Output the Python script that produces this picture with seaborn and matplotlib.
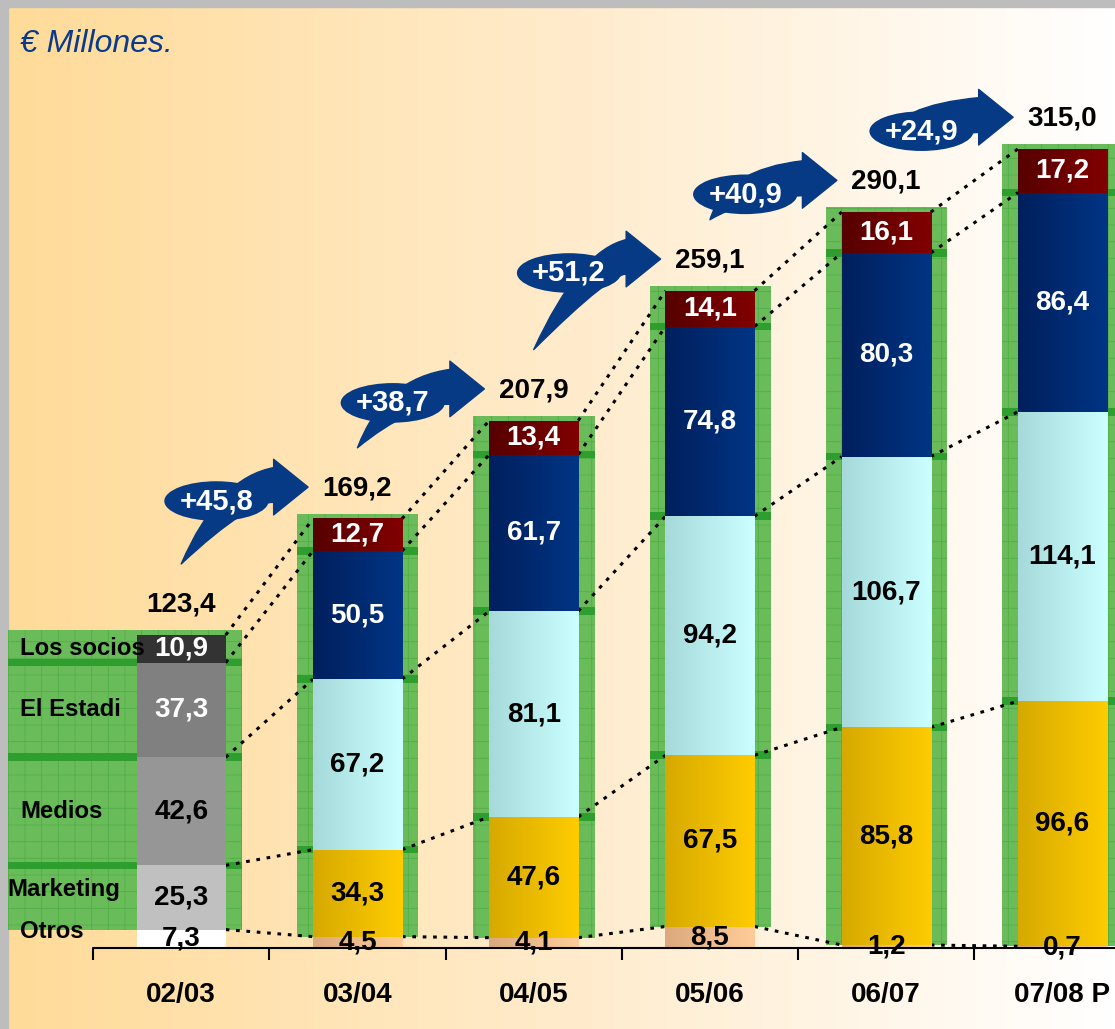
import numpy as np
import pandas as pd
import matplotlib
matplotlib.use("Agg")
import matplotlib.pyplot as plt
import seaborn as sns
from matplotlib.colors import LinearSegmentedColormap
from matplotlib.patches import FancyArrowPatch, ArrowStyle, Rectangle

# Data (€ millones)
seasons = ["02/03", "03/04", "04/05", "05/06", "06/07", "07/08 P"]
otros = [7.3, 4.5, 4.1, 8.5, 1.2, 0.7]
marketing = [25.3, 34.3, 47.6, 67.5, 85.8, 96.6]
medios = [42.6, 67.2, 81.1, 94.2, 106.7, 114.1]
estadio = [37.3, 50.5, 61.7, 74.8, 80.3, 86.4]
socios = [10.9, 12.7, 13.4, 14.1, 16.1, 17.2]
increments = [45.8, 38.7, 51.2, 40.9, 24.9]
segment_names = ["Otros", "Marketing", "Medios", "El Estadi", "Los socios"]

# Styles
seg_colors = [("#DCA97E", "#FFCC99"), ("#D6A900", "#FFCC00"), ("#A6DADA", "#CCFFFF"),
              ("#001F5C", "#003585"), ("#560000", "#820000")]
grey_colors = ["#FFFFFF", "#C0C0C0", "#969696", "#808080", "#333333"]
text_colors = ["black", "black", "black", "white", "white"]
navy = "#063A84"


def fmt(v):
    return f"{v:.1f}".replace(".", ",")


sns.set_style("white")
plt.rcParams["font.family"] = ["Liberation Sans", "DejaVu Sans"]
plt.rcParams["hatch.linewidth"] = 0.6

fig = plt.figure(figsize=(11.15, 10.29), dpi=100)

# background gradient + grey frame
bg = fig.add_axes([0, 0, 1, 1])
bg.set_axis_off()
grad = np.linspace(0, 1, 256).reshape(1, -1)
bg_cmap = LinearSegmentedColormap.from_list("bg", ["#FFDB98", "#FFEBCB", "#FFFFFF"])
bg.imshow(grad, cmap=bg_cmap, aspect="auto", extent=(0, 1, 0, 1))
bg.add_patch(Rectangle((0, 0), 0.0072, 1, color="#BDBDBD"))
bg.add_patch(Rectangle((0, 0.993), 1, 0.007, color="#BDBDBD"))
bg.set_xlim(0, 1)
bg.set_ylim(0, 1)

ax = fig.add_axes([0, 0, 1, 1])
ax.patch.set_alpha(0)

layers = np.array([otros, marketing, medios, estadio, socios])
tops = np.cumsum(layers, axis=0)
bottoms = np.vstack([np.zeros(len(seasons)), tops[:-1]])
totals = tops[-1]
x = np.arange(len(seasons))
half = 0.2525

# green backdrops
green_left = np.where(x == 0, -0.98, x - 0.343)
green_w = x + 0.345 - green_left
ax.bar(green_left, totals + 2 - layers[0], width=green_w, bottom=layers[0], align="edge",
       color="#6ABC5A", edgecolor="#52AE47", linewidth=0, hatch="+", zorder=1)
for k in range(1, 4):
    ax.bar(green_left, 3, width=green_w, bottom=tops[k] - 1.5, align="edge",
           color="#2E9E2E", linewidth=0, zorder=1.5)

# dotted connectors
for k in range(5):
    for i in range(len(seasons) - 1):
        ax.plot([x[i] + half, x[i + 1] - half], [tops[k][i], tops[k][i + 1]],
                color="black", lw=2.2, linestyle=(0, (1.2, 2.2)), zorder=2)

# stacked bars
for k, name in enumerate(segment_names):
    df = pd.DataFrame({"season": seasons, "value": layers[k]})
    n0 = len(ax.patches)
    sns.barplot(data=df, x="season", y="value", bottom=bottoms[k], width=0.505,
                color=seg_colors[k][1], saturation=1, errorbar=None, linewidth=0,
                zorder=3, ax=ax)
    new = ax.patches[n0:]
    for i, p in enumerate(new):
        if i == 0:
            p.set_facecolor(grey_colors[k])
        else:
            cmap = LinearSegmentedColormap.from_list(f"s{k}", seg_colors[k])
            x0, y0, w, h = p.get_x(), p.get_y(), p.get_width(), p.get_height()
            ax.imshow(grad, cmap=cmap, aspect="auto", extent=(x0, x0 + w, y0, y0 + h),
                      zorder=3.1)
        ax.text(x[i], bottoms[k][i] + layers[k][i] / 2, fmt(layers[k][i]), ha="center",
                va="center", fontsize=20, fontweight="bold", color=text_colors[k], zorder=5)
    # series labels next to the first bar
    lx = -0.985 if name == "Marketing" else -0.915
    ly = bottoms[k][0] + layers[k][0] / 2 + (3 if k < 2 else 0)
    ax.text(lx, ly, name, ha="left", va="center", fontsize=17.2, fontweight="bold",
            color="black", zorder=4)

# totals
for i, t in enumerate(totals):
    ax.text(x[i], t + 12, fmt(t), ha="center", va="center", fontsize=20,
            fontweight="bold", color="black", zorder=5)

# growth arrows: tapered curved body (wedge) + arrow head
for i, inc in enumerate(increments):
    tail = (x[i], totals[i] + 28)
    head_y = totals[i + 1] + 12.5
    body = FancyArrowPatch((x[i] + 0.54, head_y + 1), tail,
                           arrowstyle=ArrowStyle.Wedge(tail_width=0.62, shrink_factor=0.75),
                           connectionstyle="angle3,angleA=5,angleB=55", mutation_scale=40,
                           color=navy, zorder=6, shrinkA=0, shrinkB=0)
    ax.add_patch(body)
    head = FancyArrowPatch((x[i] + 0.49, head_y), (x[i] + 0.72, head_y),
                           arrowstyle=ArrowStyle.Simple(head_length=0.62, head_width=1.0,
                                                        tail_width=0.55),
                           mutation_scale=40, color=navy, zorder=6, shrinkA=0, shrinkB=0)
    ax.add_patch(head)
    ax.text(x[i] + 0.2, totals[i + 1] + 7, "+" + fmt(inc), ha="center", va="center",
            fontsize=21, fontweight="bold", color="white", zorder=7,
            bbox=dict(boxstyle="ellipse,pad=0.0", fc=navy, ec="none"))

# baseline and ticks
ax.plot([-0.5, 5.6], [0, 0], color="black", lw=1.5, zorder=4)
ax.vlines(x - 0.5, -4.7, 0, color="black", lw=1.5, zorder=4)
for i, s in enumerate(seasons):
    ax.text(x[i], -18.5, s, ha="center", va="center", fontsize=20, fontweight="bold",
            color="black")

fig.text(0.018, 1 - 44 / 1029, "€ Millones.", ha="left", va="center", fontsize=23,
         style="italic", color="#0A3A8A")

ax.set_xlim(-1.028, 5.298)
ax.set_ylim(-31.9, 373.7)
ax.set_axis_off()

fig.savefig("out.png", dpi=100)
